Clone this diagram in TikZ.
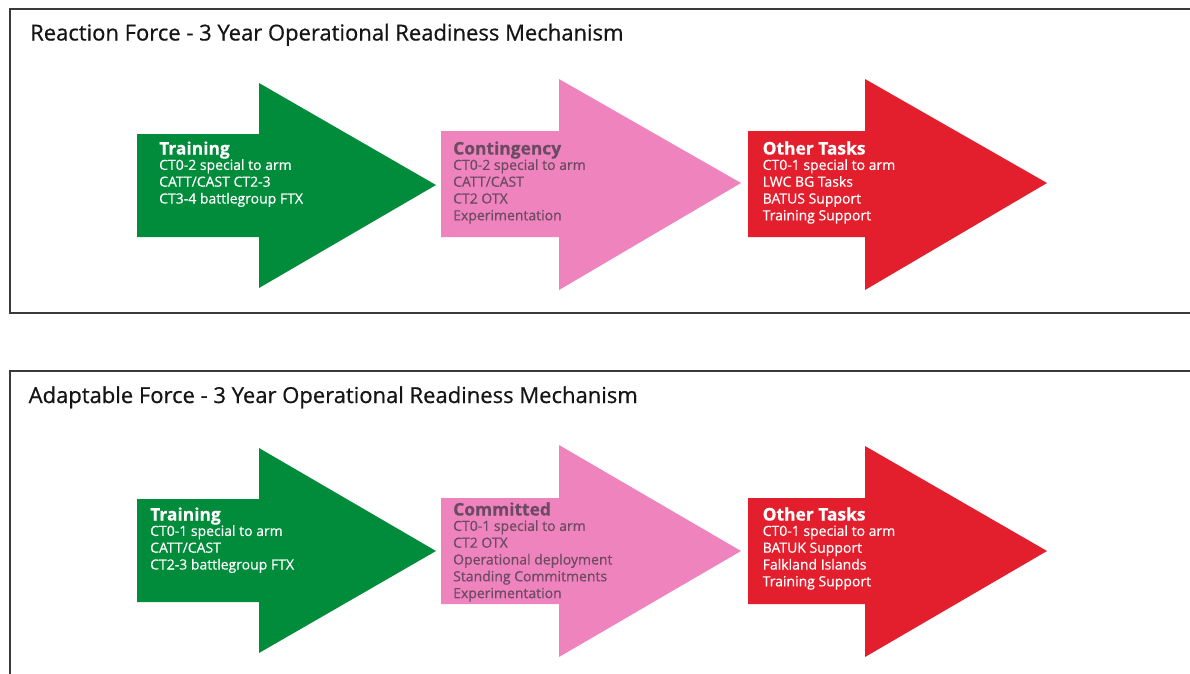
\documentclass[tikz,border=0pt]{standalone}
\usepackage{fontspec}
\setmainfont{Open Sans}
\definecolor{armgreen}{HTML}{008C3A}
\definecolor{armpink}{HTML}{EF83BE}
\definecolor{armred}{HTML}{E31E2D}
\definecolor{pinktext}{HTML}{6B4A63}
\definecolor{panelline}{HTML}{3A3A3A}
\definecolor{titletext}{HTML}{151515}
\newcommand\armblock[2]{\begin{tabular}[t]{@{}l@{}}{\fontsize{17.4}{17}\selectfont\bfseries #1}\\[-1.4pt]#2\end{tabular}}
\begin{document}
\begin{tikzpicture}[x=1pt,y=-1pt,
  panel/.style={draw=panelline,line width=1.3pt},
  ptitle/.style={anchor=base west,inner sep=0pt,text=titletext,font=\fontsize{22}{24}\selectfont\addfontfeature{FakeBold=0.6}},
  blk/.style={anchor=base west,inner sep=0pt,font=\fontsize{14}{16.8}\selectfont\addfontfeature{FakeBold=0.5}},
  greenarrow/.style={fill=armgreen},
  pinkarrow/.style={fill=armpink},
  redarrow/.style={fill=armred}]
\useasboundingbox (0,0) rectangle (1190,673);
\fill[white] (0,0) rectangle (1190,673);
% panels
\draw[panel] (1200,9) -- (10,9) -- (10,313) -- (1200,313);
\draw[panel] (1200,371) -- (10,371) -- (10,690);
\node[ptitle] (t1) at (30,40.5) {Reaction Force - 3 Year Operational Readiness Mechanism};
\node[ptitle] (t2) at (28.5,403) {Adaptable Force - 3 Year Operational Readiness Mechanism};
% top arrows
\fill[greenarrow] (137,134) -- (259,134) -- (259,83) -- (436,185) -- (259,288) -- (259,237) -- (137,237) -- cycle;
\fill[pinkarrow] (441,131) -- (559,131) -- (559,79) -- (741,183) -- (559,290) -- (559,237) -- (441,237) -- cycle;
\fill[redarrow] (748,131) -- (865,131) -- (865,79) -- (1047,183) -- (865,290) -- (865,237) -- (748,237) -- cycle;
% bottom arrows
\fill[greenarrow] (137,499) -- (259,499) -- (259,448) -- (436,551) -- (259,653) -- (259,602) -- (137,602) -- cycle;
\fill[pinkarrow] (441,498) -- (559,498) -- (559,445) -- (741,551) -- (559,657) -- (559,604) -- (441,604) -- cycle;
\fill[redarrow] (748,498) -- (865,498) -- (865,446) -- (1047,551) -- (865,657) -- (865,604) -- (748,604) -- cycle;
% top texts
\node[blk,text=white] (a1) at (159,154.5) {\armblock{Training}{CT0-2 special to arm\\CATT/CAST CT2-3\\CT3-4 battlegroup FTX}};
\node[blk,text=pinktext] (a2) at (453,154.5) {\armblock{Contingency}{CT0-2 special to arm\\CATT/CAST\\CT2 OTX\\Experimentation}};
\node[blk,text=white] (a3) at (762.5,154.5) {\armblock{Other Tasks}{CT0-1 special to arm\\LWC BG Tasks\\BATUS Support\\Training Support}};
% bottom texts
\node[blk,text=white] (b1) at (150,520.5) {\armblock{Training}{CT0-1 special to arm\\CATT/CAST\\CT2-3 battlegroup FTX}};
\node[blk,text=pinktext] (b2) at (453,515.5) {\armblock{Committed}{CT0-1 special to arm\\CT2 OTX\\Operational deployment\\Standing Commitments\\Experimentation}};
\node[blk,text=white] (b3) at (762.5,520.5) {\armblock{Other Tasks}{CT0-1 special to arm\\BATUK Support\\Falkland Islands\\Training Support}};
\end{tikzpicture}
\end{document}
